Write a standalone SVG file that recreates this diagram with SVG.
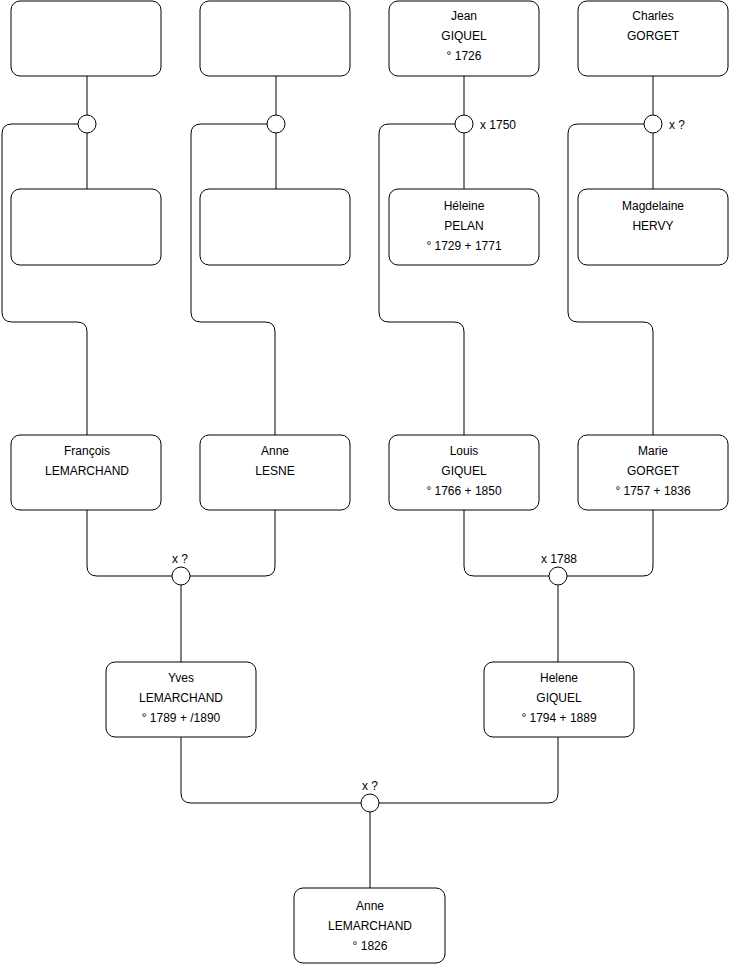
<svg xmlns="http://www.w3.org/2000/svg" width="740" height="975" viewBox="0 0 740 975">
<style>
.box{fill:#fff;stroke:#000;stroke-width:1}
.c{fill:#fff;stroke:#000;stroke-width:1}
.ln{fill:none;stroke:#000;stroke-width:1}
text{font-family:"Liberation Sans",Arial,sans-serif;font-size:12px;fill:#000}
.m{text-anchor:middle}
</style>
<rect width="740" height="975" fill="#fff"/>
<g id="connectors">
<path class="ln" d="M87 76V115M87 133V189"/>
<path class="ln" d="M276 76V115M276 133V189"/>
<path class="ln" d="M464 76V115M464 133V189"/>
<path class="ln" d="M653 76V115M653 133V189"/>
<path class="ln" d="M78 124H12Q2 124 2 134V312Q2 322 12 322H77Q87 322 87 332V435"/>
<path class="ln" d="M267 124H201Q191 124 191 134V312Q191 322 201 322H265Q275 322 275 332V435"/>
<path class="ln" d="M455 124H389Q379 124 379 134V312Q379 322 389 322H454Q464 322 464 332V435"/>
<path class="ln" d="M644 124H578Q568 124 568 134V312Q568 322 578 322H643Q653 322 653 332V435"/>
<path class="ln" d="M87 510V566Q87 576 97 576H172M190 576H265Q275 576 275 566V510"/>
<path class="ln" d="M181 585V662"/>
<path class="ln" d="M464 510V566Q464 576 474 576H549M567 576H643Q653 576 653 566V510"/>
<path class="ln" d="M558 585V662"/>
<path class="ln" d="M181 737V793Q181 803 191 803H361M379 803H548Q558 803 558 793V737"/>
<path class="ln" d="M370 812V888"/>
</g>
<g id="u1"><circle class="c" cx="87" cy="124" r="9"/></g>
<g id="u2"><circle class="c" cx="276" cy="124" r="9"/></g>
<g id="u3"><circle class="c" cx="464" cy="124" r="9"/><text x="480" y="129">x 1750</text></g>
<g id="u4"><circle class="c" cx="653" cy="124" r="9"/><text x="669" y="129">x ?</text></g>
<g id="u5"><circle class="c" cx="181" cy="576" r="9"/><text class="m" x="180" y="563">x ?</text></g>
<g id="u6"><circle class="c" cx="558" cy="576" r="9"/><text class="m" x="559" y="563">x 1788</text></g>
<g id="u7"><circle class="c" cx="370" cy="803" r="9"/><text class="m" x="370" y="790">x ?</text></g>
<g id="n1"><rect class="box" x="11" y="1" width="150" height="75" rx="9"/></g>
<g id="n2"><rect class="box" x="200" y="1" width="150" height="75" rx="9"/></g>
<g id="n3"><rect class="box" x="389" y="1" width="150" height="75" rx="9"/>
<text class="m" x="464" y="20">Jean</text><text class="m" x="464" y="40">GIQUEL</text><text class="m" x="464" y="60">° 1726</text></g>
<g id="n4"><rect class="box" x="578" y="1" width="150" height="75" rx="9"/>
<text class="m" x="653" y="20">Charles</text><text class="m" x="653" y="40">GORGET</text></g>
<g id="n5"><rect class="box" x="11" y="189" width="150" height="76" rx="9"/></g>
<g id="n6"><rect class="box" x="200" y="189" width="150" height="76" rx="9"/></g>
<g id="n7"><rect class="box" x="389" y="189" width="150" height="76" rx="9"/>
<text class="m" x="464" y="210">Héleine</text><text class="m" x="464" y="230">PELAN</text><text class="m" x="464" y="250">° 1729 + 1771</text></g>
<g id="n8"><rect class="box" x="578" y="189" width="150" height="76" rx="9"/>
<text class="m" x="653" y="210">Magdelaine</text><text class="m" x="653" y="230">HERVY</text></g>
<g id="n9"><rect class="box" x="11" y="435" width="150" height="75" rx="9"/>
<text class="m" x="87" y="455">François</text><text class="m" x="87" y="475">LEMARCHAND</text></g>
<g id="n10"><rect class="box" x="200" y="435" width="150" height="75" rx="9"/>
<text class="m" x="275" y="455">Anne</text><text class="m" x="275" y="475">LESNE</text></g>
<g id="n11"><rect class="box" x="389" y="435" width="150" height="75" rx="9"/>
<text class="m" x="464" y="455">Louis</text><text class="m" x="464" y="475">GIQUEL</text><text class="m" x="464" y="495">° 1766 + 1850</text></g>
<g id="n12"><rect class="box" x="578" y="435" width="150" height="75" rx="9"/>
<text class="m" x="653" y="455">Marie</text><text class="m" x="653" y="475">GORGET</text><text class="m" x="653" y="495">° 1757 + 1836</text></g>
<g id="n13"><rect class="box" x="106" y="662" width="150" height="75" rx="9"/>
<text class="m" x="181" y="682">Yves</text><text class="m" x="181" y="702">LEMARCHAND</text><text class="m" x="181" y="722">° 1789 + /1890</text></g>
<g id="n14"><rect class="box" x="484" y="662" width="150" height="75" rx="9"/>
<text class="m" x="559" y="682">Helene</text><text class="m" x="559" y="702">GIQUEL</text><text class="m" x="559" y="722">° 1794 + 1889</text></g>
<g id="n15"><rect class="box" x="294" y="888" width="151" height="75" rx="9"/>
<text class="m" x="370" y="910">Anne</text><text class="m" x="370" y="930">LEMARCHAND</text><text class="m" x="370" y="950">° 1826</text></g>
</svg>
